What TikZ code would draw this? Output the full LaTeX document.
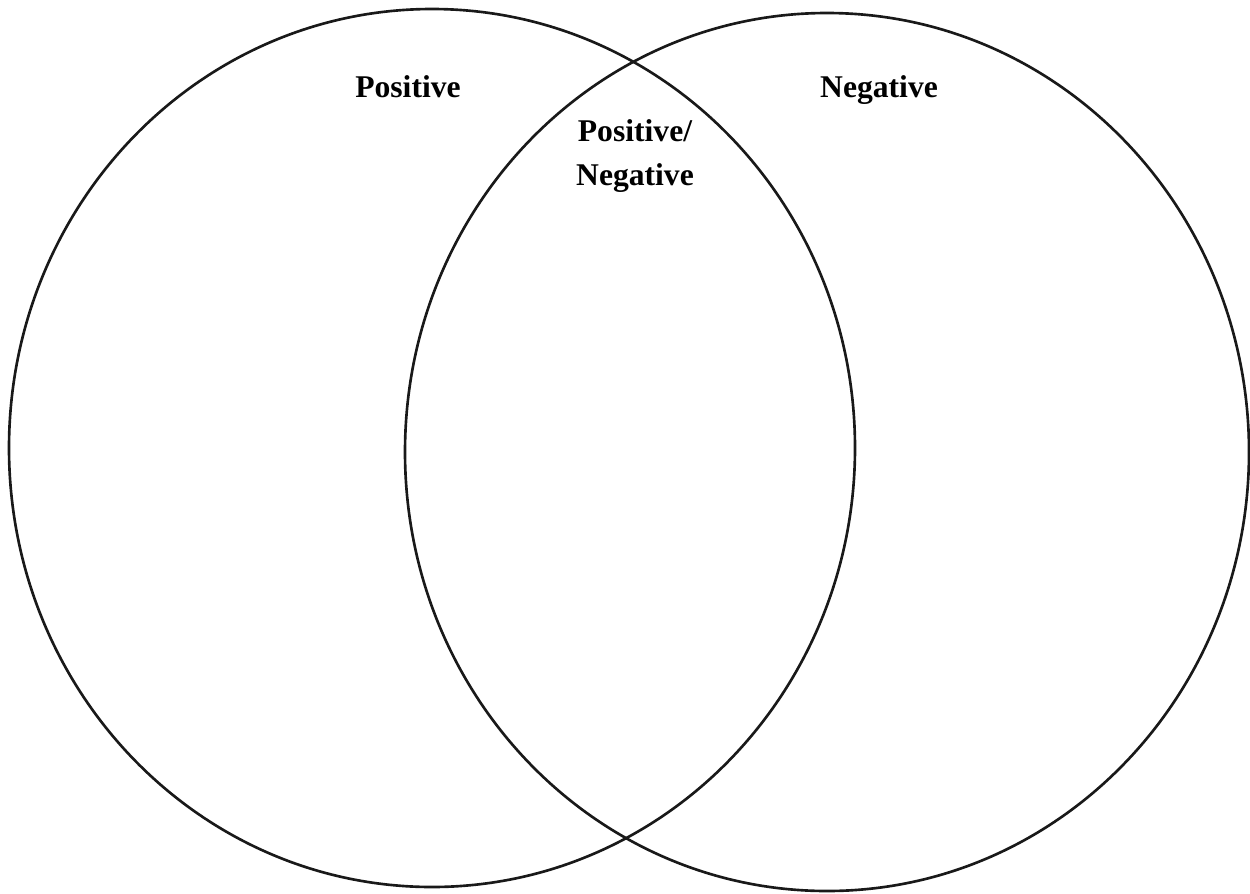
\documentclass[tikz,border=0pt]{standalone}
\usepackage{fontspec}
\setmainfont{Liberation Serif}
\usepackage{tikz}

\begin{document}
\begin{tikzpicture}[
    x=0.02cm, y=-0.02cm,
    setline/.style={black!90, line width=1.5pt},
    lbl/.style={font=\fontsize{18}{24.5}\selectfont\bfseries, align=center,
                inner sep=0pt, anchor=base},
]
\useasboundingbox (0,0) rectangle (1250,893);

% --- the two sets ---
\draw[setline] (432,448) ellipse [x radius=423, y radius=439];
\draw[setline] (827,452) ellipse [x radius=422, y radius=439];

% --- labels (base of a two-line node is its last line) ---
\node[lbl] (pos) at (408,97) {Positive};
\node[lbl] (neg) at (879,97) {Negative};
\node[lbl] (both) at (635,185) {Positive/\\Negative};

\end{tikzpicture}
\end{document}
